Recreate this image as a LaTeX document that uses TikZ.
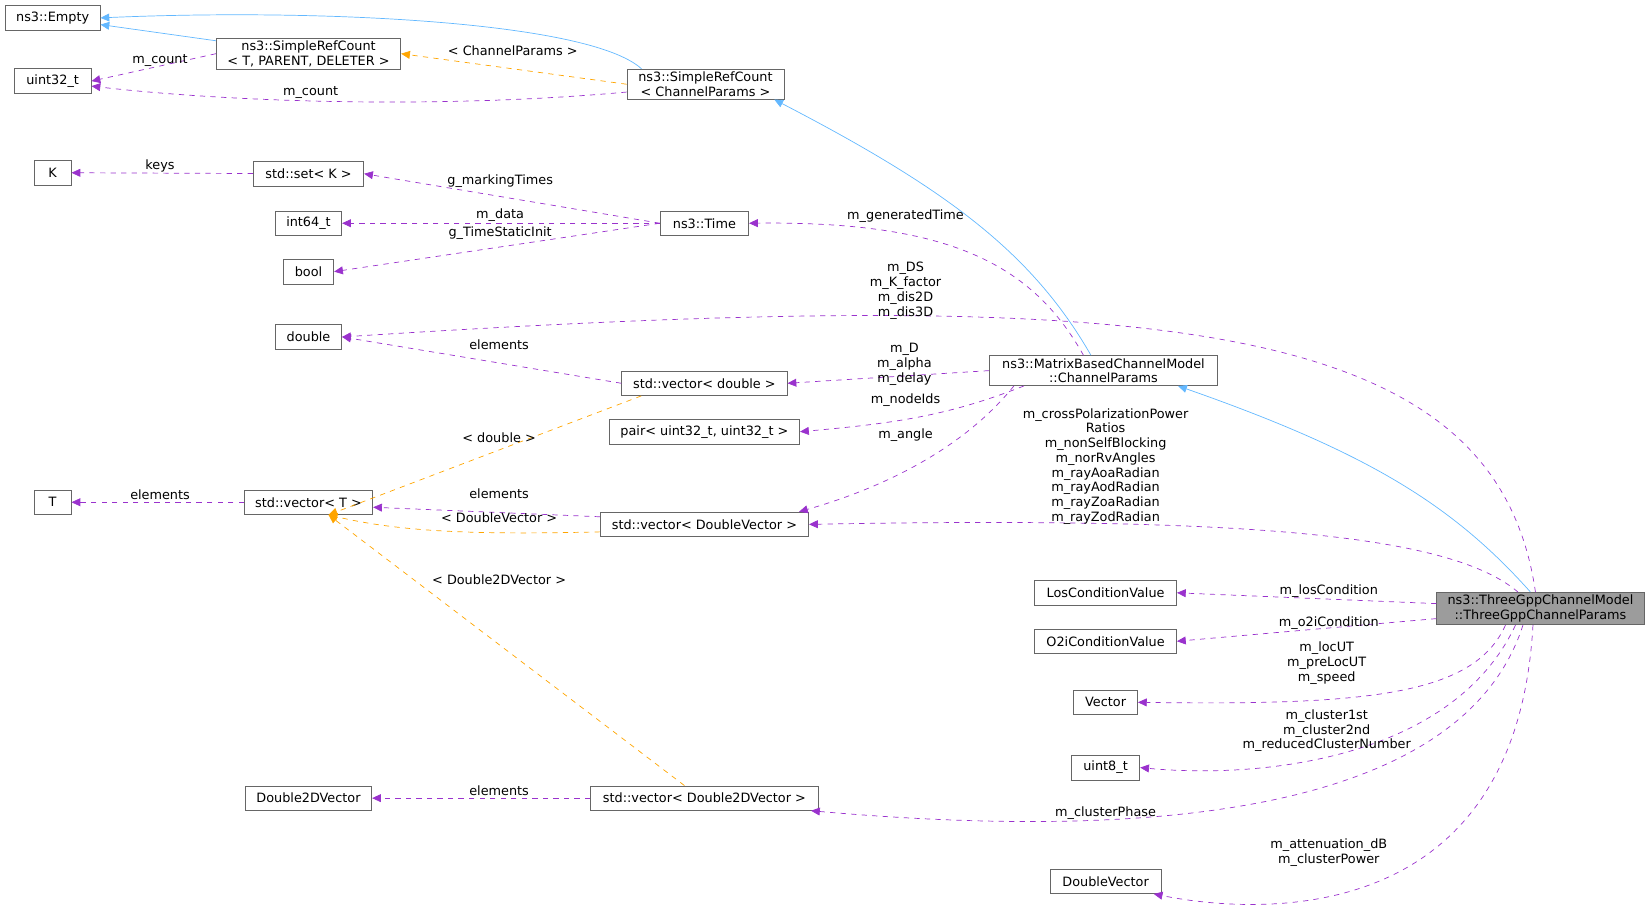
\documentclass[tikz,border=0pt]{standalone}
\usepackage{fontspec}
\setmainfont{DejaVu Sans}
\usetikzlibrary{arrows.meta, positioning}

\definecolor{inhblue}{HTML}{63B8FF}
\definecolor{tmplorange}{HTML}{FFA500}
\definecolor{usepurple}{HTML}{9A32CD}
\definecolor{boxgray}{HTML}{666666}

\begin{document}
\begin{tikzpicture}[
    x=0.02106cm, y=-0.02106cm,
    font=\fontsize{7.3}{8.4}\selectfont,
    cls/.style={rectangle, draw=boxgray, fill=white, minimum height=0.49cm, inner xsep=3pt, inner ysep=1.5pt, align=center},
    cur/.style={cls, fill=boxgray!65},
    inh/.style={-{Triangle[length=5pt,width=4.5pt]}, inhblue},
    tmpl/.style={-{Triangle[length=5pt,width=4.5pt]}, tmplorange, dashed},
    use/.style={-{Triangle[length=5pt,width=4.5pt]}, usepurple, dashed},
    lbl/.style={align=center, inner sep=0pt}
]
\useasboundingbox (0,0) rectangle (1568,866);

% Left column
\node[cls, minimum width=1.9cm] (empty) at (50,17) {ns3::Empty};
\node[cls, minimum width=1.54cm] (uint32) at (50,77) {uint32\_t};
\node[cls, minimum width=0.74cm] (K) at (50,164) {K};
\node[cls, minimum width=0.74cm] (T) at (50,477) {T};

% Second column
\node[cls, minimum width=3.69cm] (srcT) at (293,51) {ns3::SimpleRefCount\\< T, PARENT, DELETER >};
\node[cls, minimum width=2.21cm] (setK) at (293,165) {std::set< K >};
\node[cls, minimum width=1.33cm] (int64) at (293,212) {int64\_t};
\node[cls, minimum width=1.01cm] (bool) at (293,258) {bool};
\node[cls, minimum width=1.33cm] (double) at (293,320) {double};
\node[cls, minimum width=2.57cm] (vecT) at (293,477) {std::vector< T >};
\node[cls, minimum width=2.53cm] (d2d) at (293,758) {Double2DVector};

% Third column
\node[cls, minimum width=3.14cm] (srcCP) at (670,80) {ns3::SimpleRefCount\\< ChannelParams >};
\node[cls, minimum width=1.77cm] (time) at (669,212) {ns3::Time};
\node[cls, minimum width=3.31cm] (vecD) at (669,364) {std::vector< double >};
\node[cls, minimum width=3.81cm] (pair) at (669,410) {pair< uint32\_t, uint32\_t >};
\node[cls, minimum width=4.17cm] (vecDV) at (669,498) {std::vector< DoubleVector >};
\node[cls, minimum width=4.55cm] (vecD2) at (669,758) {std::vector< Double2DVector >};

% Fourth column
\node[cls, minimum width=4.57cm] (mbcp) at (1048,352) {ns3::MatrixBasedChannelModel\\::ChannelParams};
\node[cls, minimum width=2.84cm] (los) at (1050,563) {LosConditionValue};
\node[cls, minimum width=2.84cm] (o2i) at (1050,609) {O2iConditionValue};
\node[cls, minimum width=1.28cm] (vector) at (1050,667) {Vector};
\node[cls, minimum width=1.37cm] (uint8) at (1050,729) {uint8\_t};
\node[cls, minimum width=2.21cm] (dvec) at (1050,837) {DoubleVector};

% Current class
\node[cur, minimum width=4.15cm] (tgcp) at (1463,578) {ns3::ThreeGppChannelModel\\::ThreeGppChannelParams};

% Inheritance
\draw[inh] (srcT) -- (empty);
\draw[inh] ([xshift=0.3cm]srcCP.north west) .. controls (560,20) and (300,8) .. (empty.east);
\draw[inh] ([xshift=-0.25cm]mbcp.north) .. controls (980,240) and (900,180) .. ([xshift=-0.2cm]srcCP.south east);
\draw[inh] ([xshift=-0.2cm]tgcp.north) .. controls (1380,480) and (1300,430) .. ([xshift=-0.8cm]mbcp.south east);

% Template instances
\draw[tmpl] (srcCP.west) -- (srcT.east);
\draw[tmpl] ([xshift=0.4cm]vecD.south west) -- ([xshift=0.4cm]vecT.south);
\draw[tmpl] ([yshift=-0.15cm]vecDV.west) .. controls (450,508) and (380,505) .. ([xshift=0.4cm]vecT.south);
\draw[tmpl] ([xshift=-0.4cm]vecD2.north) -- ([xshift=0.4cm]vecT.south);

% Members
\draw[use] (srcT.west) -- (uint32.east);
\draw[use] ([yshift=0.15cm]srcCP.south west) .. controls (400,105) and (200,95) .. ([yshift=-0.1cm]uint32.east);
\draw[use] (setK) -- (K);
\draw[use] (time.west) -- (setK.east);
\draw[use] (time) -- (int64);
\draw[use] (time.west) -- (bool.east);
\draw[use] ([xshift=-0.4cm]mbcp.north) .. controls (980,250) and (900,210) .. (time.east);
\draw[use] (vecD.west) -- (double.east);
\draw[use] (mbcp.west) -- (vecD.east);
\draw[use] ([xshift=0.7cm]mbcp.south west) .. controls (900,395) and (850,402) .. (pair.east);
\draw[use] ([xshift=0.5cm]mbcp.south west) .. controls (920,420) and (850,460) .. ([xshift=-0.2cm]vecDV.north east);
\draw[use] (vecT) -- (T);
\draw[use] ([yshift=-0.1cm]vecDV.north west) -- ([yshift=-0.1cm]vecT.east);
\draw[use] (vecD2) -- (d2d);
\draw[use] ([xshift=-0.1cm]tgcp.north) .. controls (1420,300) and (1100,270) .. (double.east);
\draw[use] ([xshift=-0.45cm]tgcp.north) .. controls (1380,510) and (1200,490) .. (vecDV.east);
\draw[use] ([yshift=0.1cm]tgcp.west) -- (los.east);
\draw[use] ([yshift=-0.2cm]tgcp.west) -- (o2i.east);
\draw[use] ([xshift=-0.7cm]tgcp.south) .. controls (1400,660) and (1300,670) .. (vector.east);
\draw[use] ([xshift=-0.5cm]tgcp.south) .. controls (1380,720) and (1200,740) .. (uint8.east);
\draw[use] ([xshift=-0.35cm]tgcp.south) .. controls (1380,800) and (1000,790) .. ([xshift=-0.15cm]vecD2.south east);
\draw[use] ([xshift=-0.15cm]tgcp.south) .. controls (1440,880) and (1200,870) .. ([xshift=-0.15cm]dvec.south east);

% Labels
\node[lbl] (lcnt1) at (152,57) {m\_count};
\node[lbl] (lcnt2) at (295,88) {m\_count};
\node[lbl] (lcp) at (487,48) {< ChannelParams >};
\node[lbl] (lkeys) at (152,158) {keys};
\node[lbl] (lmark) at (475,172) {g\_markingTimes};
\node[lbl] (ldata) at (475,204) {m\_data};
\node[lbl] (lstat) at (475,221) {g\_TimeStaticInit};
\node[lbl] (lgen) at (860,205) {m\_generatedTime};
\node[lbl] (lds) at (860,276) {m\_DS\\m\_K\_factor\\m\_dis2D\\m\_dis3D};
\node[lbl] (lel1) at (474,327) {elements};
\node[lbl] (ld) at (859,346) {m\_D\\m\_alpha\\m\_delay};
\node[lbl] (lnode) at (860,380) {m\_nodeIds};
\node[lbl] (lang) at (860,413) {m\_angle};
\node[lbl] (ldbl) at (474,416) {< double >};
\node[lbl] (lel2) at (152,470) {elements};
\node[lbl] (lel3) at (474,469) {elements};
\node[lbl] (ldv) at (474,492) {< DoubleVector >};
\node[lbl] (lcross) at (1050,443) {m\_crossPolarizationPower\\Ratios\\m\_nonSelfBlocking\\m\_norRvAngles\\m\_rayAoaRadian\\m\_rayAodRadian\\m\_rayZoaRadian\\m\_rayZodRadian};
\node[lbl] (ld2) at (474,551) {< Double2DVector >};
\node[lbl] (llos) at (1262,561) {m\_losCondition};
\node[lbl] (lo2i) at (1262,592) {m\_o2iCondition};
\node[lbl] (lloc) at (1260,630) {m\_locUT\\m\_preLocUT\\m\_speed};
\node[lbl] (lclu) at (1260,694) {m\_cluster1st\\m\_cluster2nd\\m\_reducedClusterNumber};
\node[lbl] (lel4) at (474,751) {elements};
\node[lbl] (lphase) at (1050,772) {m\_clusterPhase};
\node[lbl] (latt) at (1262,810) {m\_attenuation\_dB\\m\_clusterPower};

\end{tikzpicture}
\end{document}
